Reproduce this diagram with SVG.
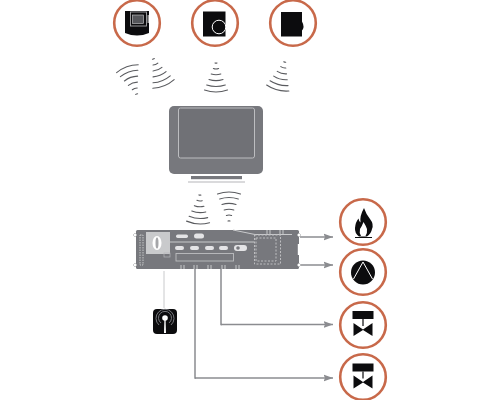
<svg xmlns="http://www.w3.org/2000/svg" width="500" height="400" viewBox="0 0 500 400">
<style>
.ring{fill:#fff;stroke:#c8694a;stroke-width:2.600}
.k{fill:#0c0c0e}
.wl{fill:none;stroke:#5a5b5f;stroke-linecap:round;stroke-width:1.100}
.conn{fill:none;stroke:#8b8c90;stroke-width:1.500}
.lite{fill:none;stroke:#c9cacc;stroke-width:1}
.pill{fill:#e4e4e6;stroke:none}
.dash{fill:none;stroke:#bdbdc0;stroke-width:1;stroke-dasharray:2 1.500}
</style>
<defs>
<marker id="ah" markerUnits="userSpaceOnUse" markerWidth="10" markerHeight="8" refX="9.500" refY="4" orient="auto"><path d="M0 .5L9.500 4L0 7.500L1.500 4Z" fill="#8b8c90"/></marker>
<g id="wave">
<path class="wl" d="M-1 1Q0 1.300 1 1"/>
<path class="wl" d="M-2.600 6.500Q0 7.500 2.600 6.500"/>
<path class="wl" d="M-4.800 12Q0 13.600 4.800 12"/>
<path class="wl" d="M-7 17.500Q0 19.800 7 17.500"/>
<path class="wl" d="M-9.300 23Q0 26 9.300 23"/>
<path class="wl" d="M-11.500 28Q0 32 11.500 28"/>
</g>
<g id="valve">
<rect class="k" x="-10.500" y="-14" width="21" height="8"/>
<rect class="k" x="-.6" y="-6" width="1.200" height="7"/>
<path class="k" d="M-9.500 -2L0 4.500L9.500 -2V11L0 4.900L-9.500 11Z"/>
</g>
</defs>

<g id="connectors">
<path class="conn" marker-end="url(#ah)" d="M300 237H333"/>
<path class="conn" marker-end="url(#ah)" d="M300 265H333"/>
<path class="conn" d="M221 269V324.500H222"/>
<path class="conn" marker-end="url(#ah)" d="M221 324.500H333"/>
<path class="conn" d="M195 269V378H196"/>
<path class="conn" marker-end="url(#ah)" d="M195 378H333"/>
<path class="lite" stroke-width="1.500" d="M164 271V308"/>
</g>

<g id="waves">
<use href="#wave" transform="translate(137 95) rotate(160)"/>
<use href="#wave" transform="translate(153 58) rotate(-22)"/>
<use href="#wave" transform="translate(216 62)"/>
<use href="#wave" transform="translate(285 61) rotate(15)"/>
<use href="#wave" transform="translate(200 194) rotate(4)"/>
<use href="#wave" transform="translate(229 222) rotate(180)"/>
</g>

<g id="node-thermostat-1">
<circle class="ring" cx="137" cy="23" r="22.800"/>
<path class="k" d="M125 11H149V33Q137 38 125 33Z"/>
<rect x="130.500" y="12" width="16" height="14" fill="#0c0c0e" stroke="#a8a8aa" stroke-width=".9"/>
<rect x="132.500" y="15" width="11" height="8.500" fill="#55565a" stroke="#cfcfd1" stroke-width=".6"/>
<path d="M147.500 15h1.500v8h-1.500z" fill="#999"/>
</g>
<g id="node-thermostat-2">
<circle class="ring" cx="215" cy="23" r="22.800"/>
<rect class="k" x="203" y="11.500" width="22.500" height="25"/>
<circle cx="219" cy="27" r="6.800" fill="#0c0c0e" stroke="#fff" stroke-width="1"/>
</g>
<g id="node-thermostat-3">
<circle class="ring" cx="293" cy="23" r="22.800"/>
<path class="k" d="M281 12H302V21.500Q305 27 302 30.500V36.500H281Z"/>
</g>

<g id="node-monitor">
<rect x="169" y="106" width="94" height="68" rx="5" fill="#77787d"/>
<rect x="178.500" y="108" width="76" height="50" rx="2" fill="#707176" stroke="#bcbdc0" stroke-width="1"/>
<rect x="191" y="176" width="51" height="3.200" fill="#77787d"/>
<rect x="188" y="181.500" width="57" height="1" fill="#b5b6b9"/>
</g>

<g id="node-controller">
<rect x="136" y="230" width="163" height="39" rx="1.500" fill="#77787d"/>
<rect x="140" y="235" width="3" height="30" fill="none" stroke="#c4c5c7" stroke-width="1" stroke-dasharray="1.500 1"/>
<rect x="146" y="232" width="24" height="22" fill="#c9cacc"/>
<rect x="164" y="253" width="6" height="4" fill="none" stroke="#b5b6b9" stroke-width=".7"/>
<ellipse cx="157" cy="243" rx="4.500" ry="7" fill="#fff"/>
<ellipse cx="157" cy="243" rx="1.500" ry="5.500" fill="#a5a6a9"/>
<path class="lite" d="M170 242H254M233 230L255 234.500H292"/>
<rect class="pill" x="176" y="234.500" width="12" height="3.500" rx="1.700"/>
<rect class="pill" x="194" y="233.500" width="10" height="5" rx="2.500"/>
<rect class="pill" x="175" y="246" width="9" height="4" rx="2"/>
<rect class="pill" x="190" y="246" width="9" height="4" rx="2"/>
<rect class="pill" x="205" y="246" width="9" height="4" rx="2"/>
<rect class="pill" x="219" y="246" width="9" height="4" rx="2"/>
<rect class="pill" x="234" y="245" width="13" height="6" rx="3"/>
<circle cx="238" cy="248" r="1.800" fill="#77787d"/>
<rect x="176" y="253.500" width="57.500" height="7.500" fill="none" stroke="#bdbec0" stroke-width=".9"/>
<rect class="dash" x="254.500" y="235" width="26" height="29"/>
<rect class="dash" x="256" y="238" width="20" height="23" stroke-width=".6"/>
<path stroke="#c9cacc" stroke-width="1" fill="none" d="M181 265V269M184 265V269M194 265V269M197 265V269M208 265V269M211 265V269M222 265V269M225 265V269M236 265V269M239 265V269M267 230V234M270 230V234M280 230V234M283 230V234"/>
<rect x="297.800" y="244" width="1.400" height="11" fill="#fff"/>
<g fill="#fff" stroke="#a8a9ab" stroke-width=".6">
<path d="M135 233l2 2l-2 2l-2-2z"/>
<path d="M135 263l2 2l-2 2l-2-2z"/>
<path d="M299 233l2 2l-2 2l-2-2z"/>
<path d="M299 263l2 2l-2 2l-2-2z"/>
</g>
</g>

<g id="node-burner">
<circle class="ring" cx="363" cy="222" r="22.800"/>
<path class="k" d="M364 208Q366 214 370 219Q374 224 372 229Q371 234 367 236.500H359Q354.500 233 355 228Q355.500 222 358.500 218.500Q359 221.500 360.500 222.500Q359.500 216 364 208Z"/>
<path fill="#fff" d="M363.500 222Q366 226 367 229Q367.500 233 365.500 236H361Q359 233 360 229Q362 226 363.500 222Z"/>
<rect class="k" x="355" y="237" width="17" height="1"/>
</g>
<g id="node-pump">
<circle class="ring" cx="363" cy="272" r="22.800"/>
<circle class="k" cx="363" cy="272.500" r="12"/>
<path fill="none" stroke="#fff" stroke-width="1" d="M353.500 279L363 262L372.500 279"/>
</g>
<g id="node-valve-1">
<circle class="ring" cx="363" cy="325" r="22.800"/>
<use href="#valve" transform="translate(363 325)"/>
</g>
<g id="node-valve-2">
<circle class="ring" cx="363" cy="377" r="22.800"/>
<use href="#valve" transform="translate(363 377.500)"/>
</g>

<g id="node-fob">
<rect class="k" x="153" y="309" width="24" height="25" rx="4"/>
<path fill="none" stroke="#77787d" stroke-width="1" d="M161 323A6.500 6.500 0 1 1 169 323M159 325A9 9 0 1 1 171 325"/>
<circle cx="165" cy="318" r="2.800" fill="#fff"/>
<path d="M164.400 320H165.600L166 333H164Z" fill="#fff"/>
</g>
</svg>
